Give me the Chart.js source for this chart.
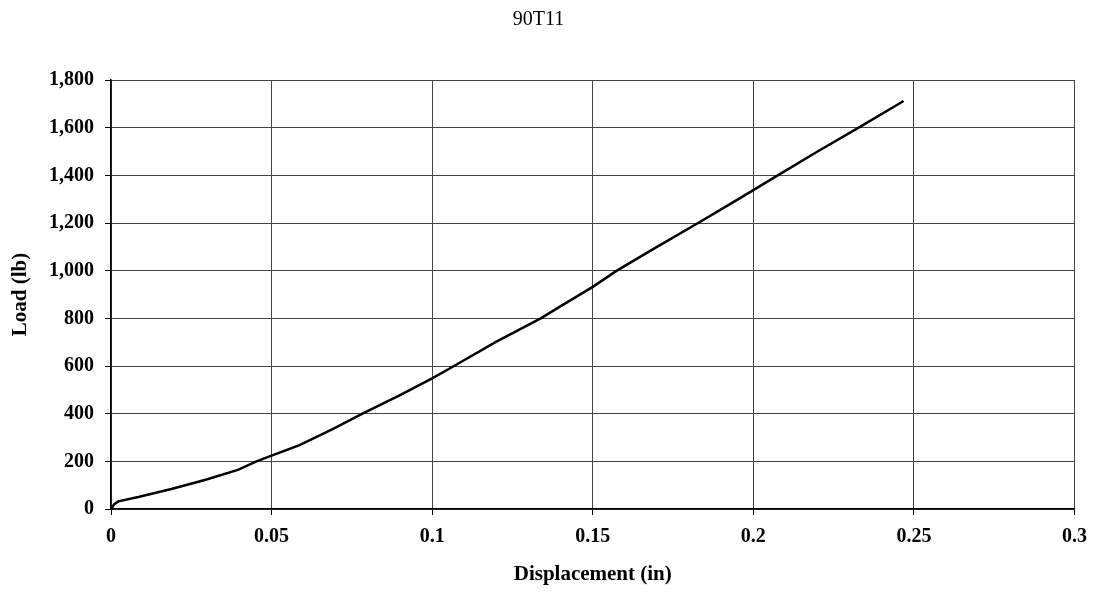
<!DOCTYPE html>
<html>
<head>
<meta charset="utf-8">
<title>90T11</title>
<script src="https://cdn.jsdelivr.net/npm/chart.js@4/dist/chart.umd.min.js"></script>
<style>
  html, body { margin: 0; padding: 0; background: #fff; }
  #wrap { width: 1097px; height: 597px; }
</style>
</head>
<body>
<div id="wrap"><canvas id="myChart"></canvas></div>
<script>
// values
var displacement = [0, 0.001, 0.0023, 0.0085, 0.0188, 0.0292, 0.0395, 0.0453, 0.05,
  0.0587, 0.069, 0.0783, 0.09, 0.1, 0.1068, 0.12, 0.1338, 0.1394, 0.15, 0.1575,
  0.17, 0.1828, 0.1922, 0.2, 0.2076, 0.22, 0.2328, 0.2468];
var load = [0, 20, 32, 50, 84, 122, 164, 200, 224,
  268, 335, 400, 478, 548, 600, 702, 800, 846, 932, 1000,
  1100, 1200, 1275, 1338, 1400, 1500, 1600, 1712];
var xTicks = [0, 0.05, 0.1, 0.15, 0.2, 0.25, 0.3];
var yTicks = [0, 200, 400, 600, 800, 1000, 1200, 1400, 1600, 1800];

var points = displacement.map(function (d, i) { return { x: d, y: load[i] }; });
var serif = "'Liberation Serif', 'Times New Roman', serif";

var ctx = document.getElementById("myChart");
var myLineChart = new Chart(ctx, {
  type: 'scatter',
  data: {
    datasets: [{
      label: '90T11',
      data: points,
      showLine: true,
      borderColor: '#000',
      borderWidth: 2.5,
      pointRadius: 0,
      tension: 0
    }]
  },
  options: {
    responsive: true,
    maintainAspectRatio: false,
    animation: false,
    layout: { padding: { top: 0, right: 20, bottom: 0, left: 0 } },
    plugins: {
      legend: { display: false },
      tooltip: { enabled: false },
      title: {
        display: true,
        text: '90T11',
        color: '#000',
        font: { family: serif, size: 20, weight: 'normal' },
        padding: { top: 8, bottom: 48 }
      }
    },
    scales: {
      x: {
        type: 'linear',
        min: 0,
        max: 0.3,
        afterBuildTicks: function (axis) {
          axis.ticks = xTicks.map(function (v) { return { value: v }; });
        },
        afterFit: function (axis) { axis.height = 88; },
        ticks: {
          color: '#000',
          padding: 10,
          maxRotation: 0,
          font: { family: serif, size: 20, weight: 'bold' },
          callback: function (v) { return String(+v.toFixed(2)); }
        },
        grid: { color: '#444', lineWidth: 1, tickLength: 6, tickColor: '#000' },
        border: { color: '#000', width: 1.5 },
        title: {
          display: true,
          text: 'Displacement (in)',
          color: '#000',
          font: { family: serif, size: 21, weight: 'bold' },
          padding: { top: 0, bottom: 10 }
        }
      },
      y: {
        min: 0,
        max: 1800,
        afterBuildTicks: function (axis) {
          axis.ticks = yTicks.map(function (v) { return { value: v }; });
        },
        afterFit: function (axis) { axis.width = 111; },
        ticks: {
          color: '#000',
          padding: 11,
          font: { family: serif, size: 20, weight: 'bold' },
          callback: function (v) { return v.toLocaleString('en-US'); }
        },
        grid: { color: '#444', lineWidth: 1, tickLength: 6, tickColor: '#000' },
        border: { color: '#000', width: 1.5 },
        title: {
          display: true,
          text: 'Load (lb)',
          color: '#000',
          font: { family: serif, size: 21, weight: 'bold' },
          padding: { top: 8, bottom: 0 }
        }
      }
    }
  }
});
</script>
</body>
</html>
